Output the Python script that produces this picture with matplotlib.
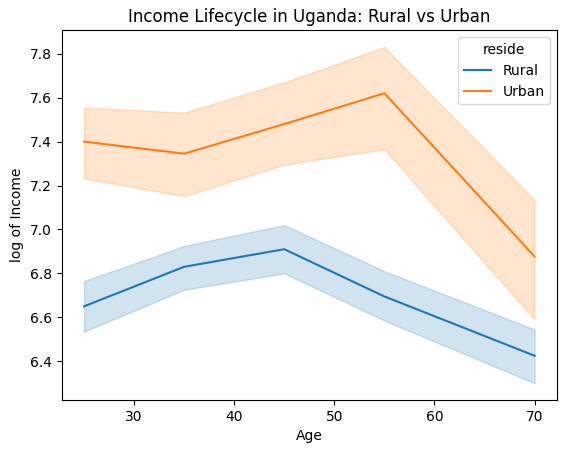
import numpy as np
import matplotlib.pyplot as plt

# faixas etárias
age = np.array([25, 35, 45, 55, 70])

# média e intervalo de confiança (log da renda)
rural_mean = np.array([6.65, 6.83, 6.91, 6.695, 6.425])
rural_low = np.array([6.535, 6.725, 6.80, 6.585, 6.30])
rural_high = np.array([6.765, 6.925, 7.02, 6.81, 6.545])

urban_mean = np.array([7.40, 7.345, 7.48, 7.62, 6.877])
urban_low = np.array([7.232, 7.152, 7.295, 7.365, 6.59])
urban_high = np.array([7.555, 7.532, 7.67, 7.83, 7.135])

fig = plt.figure(figsize=(5.67, 4.53), dpi=100)
ax = fig.add_axes([0.1085, 0.117, 0.874, 0.816])

ax.plot(age, rural_mean, color="#1f77b4", label="Rural")
ax.fill_between(age, rural_low, rural_high, color="#1f77b4", alpha=0.2)
ax.plot(age, urban_mean, color="#ff7f0e", label="Urban")
ax.fill_between(age, urban_low, urban_high, color="#ff7f0e", alpha=0.2)

ax.set_title("Income Lifecycle in Uganda: Rural vs Urban")
ax.set_xlabel("Age")
ax.set_ylabel("log of Income")
ax.legend(title="reside", loc="upper right")

fig.savefig("out.png", dpi=100)
